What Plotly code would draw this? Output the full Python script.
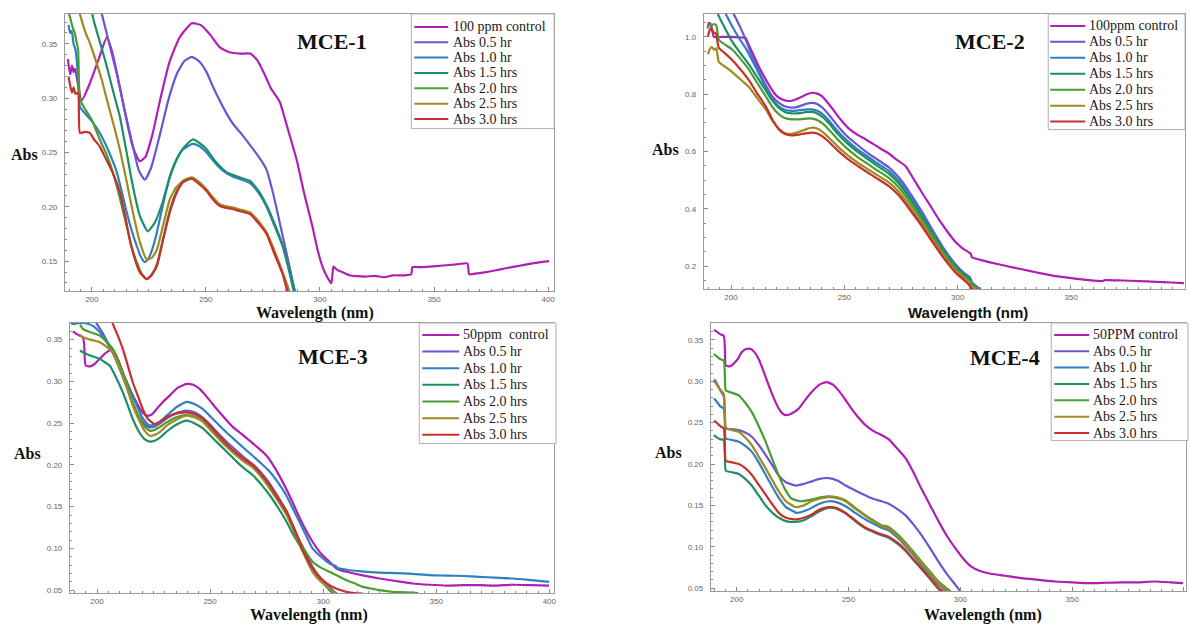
import plotly.graph_objects as go

W, H = 1191, 626

# ---------------- data: (wavelength nm, absorbance) ----------------
SERIES_NAMES = ["control", "0.5 hr", "1.0 hr", "1.5 hrs", "2.0 hrs", "2.5 hrs", "3.0 hrs"]
COLORS = ["#b01fb3", "#6a55d2", "#2e80c0", "#1c8f68", "#4a9d33", "#a08a22", "#c8302c"]

LEGEND_MCE1 = ["100 ppm control", "Abs 0.5 hr", "Abs 1.0 hr", "Abs 1.5 hrs", "Abs 2.0 hrs", "Abs 2.5 hrs", "Abs 3.0 hrs"]
LEGEND_MCE2 = ["100ppm control", "Abs 0.5 hr", "Abs 1.0 hr", "Abs 1.5 hrs", "Abs 2.0 hrs", "Abs 2.5 hrs", "Abs 3.0 hrs"]
LEGEND_MCE3 = ["50ppm\u00a0 control", "Abs 0.5 hr", "Abs 1.0 hr", "Abs 1.5 hrs", "Abs 2.0 hrs", "Abs 2.5 hrs", "Abs 3.0 hrs"]
LEGEND_MCE4 = ["50PPM control", "Abs 0.5 hr", "Abs 1.0 hr", "Abs 1.5 hrs", "Abs 2.0 hrs", "Abs 2.5 hrs", "Abs 3.0 hrs"]

X_TICKS = [200, 250, 300, 350, 400]

# MCE-1
MCE1_CONTROL = [(189.5, 0.336), (190.5, 0.322), (191.3, 0.330), (192.0, 0.324), (192.6, 0.327), (193.5, 0.318),
                (195.6, 0.298), (199, 0.313), (203, 0.336), (206.6, 0.356), (209, 0.342), (212, 0.313),
                (215, 0.282), (218, 0.255), (221, 0.242), (223.5, 0.246), (226.5, 0.266), (230, 0.299),
                (234, 0.333), (238.5, 0.356), (243.8, 0.369), (248, 0.367), (252, 0.358), (256, 0.347),
                (260, 0.3425), (265, 0.341), (269.5, 0.341), (272.5, 0.335), (275.5, 0.323), (278.5, 0.309),
                (282.3, 0.297), (286, 0.271), (289.7, 0.244), (293, 0.213), (296.7, 0.182), (299, 0.16),
                (301.1, 0.145), (303, 0.136), (305, 0.1297), (305.9, 0.145), (307.5, 0.142), (309.9, 0.1399),
                (313, 0.137), (316, 0.1362), (320, 0.1358), (324, 0.1365), (328, 0.1352), (332, 0.137),
                (337, 0.137), (340, 0.138), (340.5, 0.1445), (344, 0.1445), (348, 0.145), (354, 0.146),
                (359.8, 0.147), (364.6, 0.148), (365.4, 0.138), (368, 0.1385), (372.9, 0.1399), (378, 0.142),
                (384, 0.1445), (388, 0.146), (393, 0.148), (400.4, 0.150)]
MCE1_H05 = [(203.5, 0.385), (206, 0.364), (208.5, 0.343), (211, 0.322), (214.5, 0.288), (218, 0.256),
            (220.5, 0.234), (223.2, 0.225), (226, 0.236), (229.8, 0.266), (233.5, 0.298), (237.2, 0.322),
            (240.5, 0.334), (243.8, 0.338), (247, 0.334), (250.3, 0.324), (253, 0.311), (256, 0.298),
            (259, 0.286), (262, 0.276), (266, 0.266), (270, 0.255), (273.5, 0.245), (276.6, 0.234),
            (279.5, 0.212), (282.3, 0.186), (285.5, 0.156), (288.9, 0.1225), (291, 0.10)]
MCE1_H10 = [(189.8, 0.3675), (190.5, 0.36), (191.2, 0.362), (192, 0.35), (192.8, 0.345), (193.5, 0.333),
            (194.8, 0.292), (197, 0.286), (200.5, 0.2775), (203.5, 0.268), (206.6, 0.255), (209, 0.243),
            (211, 0.2315), (213, 0.215), (215.3, 0.195), (217.5, 0.178), (219.7, 0.164), (221.5, 0.154),
            (223.2, 0.149), (225, 0.153), (226.8, 0.163), (228.5, 0.1765), (231.5, 0.205), (234.2, 0.228),
            (237, 0.243), (239.9, 0.2527), (244.2, 0.258), (247, 0.256), (250.3, 0.25), (253, 0.243),
            (256, 0.236), (259, 0.231), (261.7, 0.228), (265, 0.2255), (269.2, 0.222), (273, 0.213),
            (276.6, 0.2), (280, 0.183), (283.6, 0.164), (286, 0.145), (288.5, 0.122), (290.5, 0.105)]
MCE1_H15 = [(199.5, 0.385), (201, 0.37), (203.5, 0.352), (206.6, 0.329), (209.5, 0.305), (212.3, 0.283),
            (215, 0.253), (218, 0.219), (221, 0.192), (224.5, 0.1775), (227.5, 0.185), (231, 0.204),
            (234, 0.226), (237.2, 0.2435), (240.5, 0.255), (244.2, 0.262), (247, 0.259), (250.3, 0.253),
            (253, 0.245), (256, 0.2375), (259, 0.232), (261.7, 0.2295), (265, 0.227), (269.2, 0.224),
            (273, 0.215), (276.6, 0.2015), (280, 0.185), (283.6, 0.165), (286.5, 0.143), (289, 0.1225),
            (291, 0.105)]
MCE1_H20 = [(190, 0.378), (190.4, 0.375), (191.5, 0.366), (192.5, 0.36), (193.3, 0.352), (194, 0.345),
            (194.8, 0.299), (197, 0.29), (200, 0.28), (203.5, 0.262), (206.5, 0.248), (209.2, 0.232),
            (212.3, 0.208), (215.3, 0.182), (217.5, 0.163), (219.7, 0.149), (222, 0.138), (224, 0.1335),
            (226, 0.137), (228.5, 0.147), (231.5, 0.173), (234.2, 0.197), (237, 0.214), (239.9, 0.224),
            (243.8, 0.227), (247, 0.223), (250.3, 0.2155), (253, 0.208), (256, 0.2015), (259, 0.1995),
            (261.7, 0.1985), (265, 0.197), (269.2, 0.194), (273, 0.186), (276.6, 0.1755), (280, 0.158),
            (283.6, 0.139), (286, 0.1225), (288, 0.108)]
MCE1_H25 = [(193.8, 0.385), (195.5, 0.372), (197.3, 0.36), (199.1, 0.351), (202, 0.333), (204.5, 0.316),
            (206.6, 0.2986), (209.5, 0.276), (212.3, 0.2527), (215, 0.226), (218, 0.195), (221, 0.168),
            (224, 0.152), (226.3, 0.153), (228.5, 0.1605), (231.5, 0.185), (234.2, 0.207), (237, 0.218),
            (239.9, 0.2235), (243.8, 0.227), (247, 0.2225), (250.3, 0.216), (253, 0.209), (256, 0.2025),
            (259, 0.2005), (261.7, 0.1995), (265, 0.1975), (269.2, 0.195), (273, 0.187), (276.6, 0.1765),
            (280, 0.16), (283.6, 0.14), (286.6, 0.1225), (288.5, 0.11)]
MCE1_H30 = [(189.8, 0.32), (190.5, 0.312), (191.3, 0.305), (192, 0.31), (192.8, 0.304), (194, 0.305),
            (194.8, 0.268), (197, 0.269), (199.1, 0.268), (201, 0.262), (203.5, 0.2555), (205.5, 0.247),
            (207.9, 0.237), (210, 0.227), (212.3, 0.2133), (214.5, 0.193), (216.6, 0.17), (219, 0.151),
            (221, 0.14), (224, 0.1335), (226, 0.1365), (228.5, 0.1455), (231.5, 0.172), (234.2, 0.195),
            (237, 0.212), (239.9, 0.2225), (243.8, 0.226), (247, 0.221), (250.3, 0.2145), (253, 0.207),
            (256, 0.201), (259, 0.199), (261.7, 0.198), (265, 0.196), (269.2, 0.1935), (273, 0.185),
            (276.6, 0.175), (280, 0.157), (283.6, 0.1385), (285.7, 0.1225), (287.5, 0.11)]

# MCE-2
MCE2_CONTROL = [(189.7, 1.03), (190.2, 1.049), (191, 1.045), (191.8, 1.02), (192.4, 1.0), (196, 1.0),
                (200, 1.0), (204, 0.998), (206.5, 0.996), (207.5, 0.978), (210, 0.935), (212.3, 0.896),
                (215, 0.856), (218, 0.816), (220, 0.795), (222.4, 0.782), (224.5, 0.777), (226.8, 0.777),
                (229, 0.783), (231.2, 0.791), (233.5, 0.800), (235.7, 0.805), (238, 0.802), (240.1, 0.793),
                (244.5, 0.752), (248, 0.715), (252, 0.68), (255.5, 0.66), (259.5, 0.642), (263, 0.625),
                (266.6, 0.607), (269.6, 0.593), (273, 0.572), (277.1, 0.548), (280.5, 0.505), (284.2, 0.457),
                (288, 0.41), (291.7, 0.363), (295.5, 0.32), (299.2, 0.283), (302, 0.263), (305, 0.248),
                (305.8, 0.243), (306.3, 0.231), (310, 0.222), (313.8, 0.214), (320, 0.203), (328.3, 0.189),
                (335, 0.178), (343.3, 0.165), (350, 0.158), (357.9, 0.151), (364, 0.148), (365, 0.151),
                (372.5, 0.150), (380, 0.148), (387.5, 0.145), (394, 0.143), (399.8, 0.141)]
MCE2_H05 = [(200, 1.10), (201.2, 1.08), (204, 1.035), (206.5, 0.99), (209.2, 0.935), (212.3, 0.88),
            (215.4, 0.83), (218, 0.795), (221.1, 0.77), (224, 0.757), (226.8, 0.753), (229, 0.755),
            (231.2, 0.761), (233.5, 0.767), (235.7, 0.77), (238, 0.766), (240.5, 0.752), (243, 0.73),
            (247, 0.69), (251, 0.655), (255, 0.628), (259.5, 0.6), (264, 0.575), (269.6, 0.545),
            (274, 0.51), (279, 0.455), (284.2, 0.39), (289, 0.325), (294, 0.26), (299.2, 0.205),
            (303, 0.175), (305.5, 0.16), (306.3, 0.143), (309, 0.125), (311.6, 0.11)]
MCE2_H10 = [(196.5, 1.10), (197.7, 1.08), (201, 1.03), (204, 0.99), (206.5, 0.96), (209.2, 0.92),
            (212.3, 0.872), (215.4, 0.822), (218, 0.785), (221.1, 0.757), (224, 0.745), (226.8, 0.742),
            (229, 0.743), (231.2, 0.745), (233.5, 0.747), (235.7, 0.747), (238, 0.742), (240.5, 0.73),
            (243, 0.71), (247, 0.672), (251, 0.64), (255, 0.613), (259.5, 0.587), (264, 0.562),
            (269.6, 0.533), (274, 0.498), (279, 0.443), (284.2, 0.38), (289, 0.318), (294, 0.255),
            (299.2, 0.2), (303, 0.17), (305.5, 0.155), (306.3, 0.14), (309, 0.122), (311, 0.11)]
MCE2_H15 = [(193.5, 1.10), (194.2, 1.08), (196, 1.05), (198, 1.02), (200.4, 0.985), (203.5, 0.95),
            (207.8, 0.905), (211.5, 0.86), (215.4, 0.812), (218, 0.78), (221.1, 0.752), (224, 0.737),
            (226.8, 0.733), (229, 0.733), (231.2, 0.735), (233.5, 0.738), (235.7, 0.738), (238, 0.733),
            (240.5, 0.72), (243, 0.70), (247, 0.663), (251, 0.631), (255, 0.604), (259.5, 0.578),
            (264, 0.553), (269.6, 0.523), (274, 0.489), (279, 0.435), (284.2, 0.373), (289, 0.312),
            (294, 0.25), (299.2, 0.196), (303, 0.168), (305.5, 0.153), (306.3, 0.138), (309, 0.12),
            (311, 0.11)]
MCE2_H20 = [(189.8, 1.03), (190.5, 1.045), (191.5, 1.04), (192.5, 1.045), (193.5, 1.04), (194.6, 0.99),
            (197, 0.975), (200.4, 0.957), (204, 0.925), (207.8, 0.887), (211.5, 0.84), (215.4, 0.792),
            (218, 0.758), (221.1, 0.73), (224, 0.716), (226.8, 0.712), (229, 0.712), (231.2, 0.713),
            (233.5, 0.715), (235.7, 0.715), (238, 0.71), (240.5, 0.697), (243, 0.678), (247, 0.643),
            (251, 0.612), (255, 0.586), (259.5, 0.561), (264, 0.537), (269.6, 0.508), (274, 0.475),
            (279, 0.422), (284.2, 0.362), (289, 0.302), (294, 0.242), (299.2, 0.19), (303, 0.163),
            (305.5, 0.148), (306.3, 0.135), (309, 0.12), (311, 0.11)]
MCE2_H25 = [(189.8, 0.94), (190.5, 0.955), (191.5, 0.965), (192.5, 0.955), (193.5, 0.96), (194.6, 0.913),
            (197, 0.898), (200.4, 0.878), (204, 0.853), (207.8, 0.826), (211.5, 0.787), (215.4, 0.746),
            (218, 0.71), (221.1, 0.68), (224, 0.664), (226.8, 0.662), (229, 0.666), (231.2, 0.672),
            (233.5, 0.679), (235.7, 0.683), (238, 0.68), (240.5, 0.668), (243, 0.65), (247, 0.618),
            (251, 0.59), (255, 0.566), (259.5, 0.543), (264, 0.52), (269.6, 0.492), (274, 0.46),
            (279, 0.408), (284.2, 0.35), (289, 0.292), (294, 0.234), (299.2, 0.183), (303, 0.156),
            (305, 0.14), (306, 0.128), (308, 0.115)]
MCE2_H30 = [(189.8, 1.0), (190.4, 1.02), (191, 1.03), (192, 1.018), (193.3, 1.012), (194.6, 0.962),
            (197, 0.945), (200.4, 0.92), (204, 0.888), (207.8, 0.85), (211.5, 0.803), (215.4, 0.757),
            (218, 0.715), (221.1, 0.677), (224, 0.66), (226.8, 0.656), (229, 0.658), (231.2, 0.661),
            (233.5, 0.664), (235.7, 0.666), (238, 0.663), (240.5, 0.652), (243, 0.635), (247, 0.604),
            (251, 0.577), (255, 0.554), (259.5, 0.531), (264, 0.508), (269.6, 0.479), (274, 0.447),
            (279, 0.396), (284.2, 0.34), (289, 0.283), (294, 0.226), (299.2, 0.176), (303, 0.15),
            (305, 0.135), (306, 0.122), (308, 0.11)]

# MCE-3
MCE3_CONTROL = [(189.3, 0.36), (191.5, 0.356), (193.7, 0.353), (194.3, 0.345), (195, 0.319), (197, 0.318),
                (199, 0.321), (201.5, 0.328), (204.3, 0.335), (207, 0.338), (209.5, 0.325), (211.5, 0.31),
                (215, 0.288), (218, 0.272), (220, 0.263), (222, 0.259), (224, 0.26), (226.4, 0.267),
                (229, 0.275), (232.1, 0.283), (235.5, 0.292), (239.6, 0.297), (242.5, 0.296), (245.4, 0.291),
                (249, 0.28), (252.9, 0.267), (256.5, 0.256), (260, 0.2456), (264, 0.237), (267.5, 0.229),
                (271, 0.221), (275, 0.211), (278.5, 0.197), (282, 0.18), (285.5, 0.161), (289, 0.14),
                (292.5, 0.121), (295.3, 0.108), (299, 0.094), (302.8, 0.084), (305.9, 0.076), (310.3, 0.072),
                (317, 0.068), (324.9, 0.064), (332, 0.061), (339.4, 0.058), (347, 0.0565), (354.4, 0.0555),
                (362, 0.056), (369, 0.056), (376, 0.0555), (383.7, 0.0565), (392, 0.056), (399.9, 0.0555)]
MCE3_H05 = [(199, 0.375), (199.9, 0.369), (202.5, 0.358), (205, 0.345), (207.5, 0.331), (210, 0.315),
            (213, 0.294), (216, 0.272), (219, 0.256), (221.5, 0.248), (223.3, 0.245), (225.5, 0.246),
            (228, 0.25), (231, 0.256), (235, 0.262), (239.6, 0.265), (243, 0.263), (246.7, 0.257),
            (250.5, 0.247), (254.2, 0.236), (258, 0.226), (261.7, 0.217), (265, 0.209), (268.8, 0.201),
            (272.5, 0.191), (276.3, 0.178), (280, 0.162), (283.8, 0.145), (286.5, 0.128), (289.5, 0.11),
            (292.5, 0.093), (295.3, 0.078), (299, 0.064), (302.8, 0.054), (305, 0.048), (307, 0.044)]
MCE3_H10 = [(188.5, 0.37), (189.3, 0.369), (192, 0.37), (194, 0.37), (196, 0.369), (198.5, 0.366),
            (201.2, 0.359), (204, 0.348), (207, 0.335), (210, 0.318), (213.2, 0.299), (215.5, 0.284),
            (217.6, 0.271), (220, 0.257), (222, 0.25), (223.3, 0.247), (225, 0.248), (227.5, 0.251),
            (230.8, 0.259), (235, 0.269), (239.6, 0.2755), (243, 0.273), (246.7, 0.267), (250.5, 0.257),
            (254.2, 0.247), (258, 0.237), (261.7, 0.228), (265, 0.22), (268.8, 0.211), (272.5, 0.202),
            (276.3, 0.192), (280, 0.179), (283.8, 0.163), (286.5, 0.148), (289.5, 0.132), (292.5, 0.115),
            (295.3, 0.1), (299, 0.09), (302.8, 0.082), (305.5, 0.079), (306.3, 0.0765), (310.3, 0.0745),
            (317, 0.0725), (324.9, 0.071), (332, 0.0705), (339.4, 0.0695), (347, 0.068), (354.4, 0.0675),
            (362, 0.067), (369, 0.066), (376, 0.065), (383.7, 0.064), (392, 0.062), (399.9, 0.060)]
MCE3_H15 = [(192.5, 0.337), (193.7, 0.335), (197, 0.331), (201.2, 0.327), (203.5, 0.323), (205.6, 0.319),
            (208, 0.307), (211.4, 0.287), (213.5, 0.272), (215.8, 0.255), (218.5, 0.24), (221, 0.231),
            (223.3, 0.228), (225.5, 0.229), (228, 0.233), (230.8, 0.24), (235, 0.248), (239.6, 0.253),
            (243, 0.25), (246.7, 0.244), (250.5, 0.234), (254.2, 0.224), (258, 0.214), (261.7, 0.204),
            (265, 0.196), (268.8, 0.188), (272.5, 0.177), (276.3, 0.164), (280, 0.149), (283.8, 0.132),
            (286.5, 0.118), (289.5, 0.104), (292.5, 0.089), (295.3, 0.075), (299, 0.062), (302.8, 0.05),
            (305, 0.045)]
MCE3_H20 = [(192.5, 0.368), (193.7, 0.363), (197, 0.359), (201.2, 0.355), (204, 0.348), (207, 0.339),
            (209, 0.327), (211.4, 0.311), (213.5, 0.294), (215.8, 0.275), (218.5, 0.258), (221, 0.246),
            (223.3, 0.241), (225.5, 0.242), (228, 0.246), (230.8, 0.251), (235, 0.257), (239.6, 0.26),
            (243, 0.258), (246.7, 0.254), (250.5, 0.243), (254.2, 0.232), (258, 0.221), (261.7, 0.212),
            (265, 0.205), (268.8, 0.198), (272.5, 0.187), (276.3, 0.173), (280, 0.158), (283.8, 0.142),
            (286.5, 0.127), (289, 0.112), (292, 0.097), (295.3, 0.084), (299, 0.077), (302.8, 0.072),
            (305.9, 0.068), (310.3, 0.062), (314, 0.058), (317.6, 0.054), (321, 0.052), (324.9, 0.05),
            (330.8, 0.048), (335, 0.0475), (339.4, 0.047), (342, 0.0465)]
MCE3_H25 = [(192.5, 0.356), (193.7, 0.353), (197, 0.35), (201.2, 0.347), (204, 0.342), (207, 0.335),
            (209, 0.322), (211.4, 0.307), (213.5, 0.29), (215.8, 0.271), (218.5, 0.254), (221, 0.241),
            (223.3, 0.235), (225.5, 0.236), (228, 0.24), (230.8, 0.247), (235, 0.254), (239.6, 0.259),
            (243, 0.257), (246.7, 0.252), (250.5, 0.241), (254.2, 0.23), (258, 0.22), (261.7, 0.211),
            (265, 0.204), (268.8, 0.197), (272.5, 0.186), (276.3, 0.172), (280, 0.157), (283.8, 0.14),
            (286.5, 0.124), (289, 0.108), (292, 0.09), (295.3, 0.072), (299, 0.06), (302.8, 0.052),
            (305, 0.047), (307, 0.044)]
MCE3_H30 = [(206, 0.38), (207, 0.369), (209, 0.356), (211.4, 0.339), (213.5, 0.32), (215.8, 0.299),
            (218, 0.283), (220.2, 0.267), (222.5, 0.255), (225.5, 0.249), (228, 0.252), (232.1, 0.259),
            (236, 0.262), (239.6, 0.263), (243, 0.261), (246.7, 0.256), (250.5, 0.245), (254.2, 0.2336),
            (258, 0.223), (261.7, 0.214), (265, 0.207), (268.8, 0.2), (272.5, 0.189), (276.3, 0.176),
            (280, 0.16), (283.8, 0.144), (286.5, 0.128), (288.2, 0.116), (291.5, 0.095), (295.3, 0.076),
            (299, 0.064), (302.8, 0.056), (306.5, 0.051), (310.3, 0.048), (314, 0.0465), (317.6, 0.046)]

# MCE-4
MCE4_CONTROL = [(189.8, 0.362), (190.6, 0.361), (192.5, 0.357), (194.2, 0.355), (194.7, 0.34), (195.1, 0.319),
                (196.8, 0.318), (198.5, 0.321), (200.5, 0.327), (202.2, 0.335), (204.2, 0.339), (206.3, 0.339),
                (208, 0.335), (209.8, 0.327), (212, 0.312), (214.3, 0.295), (216.5, 0.28), (218.8, 0.267),
                (220.5, 0.261), (222.3, 0.259), (224.5, 0.261), (227.7, 0.267), (230.5, 0.277), (233.5, 0.287),
                (237, 0.296), (240.2, 0.299), (243, 0.296), (245.5, 0.289), (248.5, 0.278), (251.3, 0.267),
                (254.5, 0.256), (257.6, 0.247), (261, 0.24), (264.7, 0.235), (267.9, 0.23), (271, 0.221),
                (275.5, 0.207), (279, 0.19), (282.6, 0.17), (286.5, 0.15), (290.2, 0.131), (294, 0.113),
                (297.8, 0.098), (301.5, 0.085), (304.9, 0.076), (308.5, 0.071), (312.5, 0.068), (320, 0.065),
                (327.3, 0.062), (335, 0.06), (342.4, 0.058), (350, 0.057), (357.2, 0.056), (365, 0.0565),
                (372, 0.057), (380, 0.057), (387, 0.058), (394, 0.057), (399.6, 0.056)]
MCE4_H05 = [(189.8, 0.302), (190.6, 0.3), (192.5, 0.29), (194.2, 0.282), (194.7, 0.26), (195.1, 0.243),
            (198, 0.242), (200.9, 0.241), (203.8, 0.238), (206.7, 0.233), (209.8, 0.223), (212.9, 0.211),
            (216, 0.198), (218.8, 0.186), (222, 0.178), (226.3, 0.174), (230, 0.176), (233.5, 0.179),
            (237, 0.182), (241.1, 0.183), (245, 0.18), (248.7, 0.174), (253, 0.168), (257.6, 0.162),
            (261, 0.158), (264.7, 0.155), (267.9, 0.152), (271, 0.147), (275.5, 0.138), (279, 0.127),
            (282.6, 0.114), (286.5, 0.098), (290.2, 0.082), (294, 0.067), (297.8, 0.054), (300, 0.046),
            (302, 0.04)]
MCE4_H10 = [(189.8, 0.279), (190.6, 0.277), (192.5, 0.27), (194.2, 0.267), (194.7, 0.248), (195.1, 0.231),
            (198, 0.229), (200.9, 0.227), (203.8, 0.222), (206.7, 0.215), (209.8, 0.202), (212.9, 0.187),
            (216, 0.172), (218.8, 0.159), (222, 0.148), (226.8, 0.141), (230, 0.143), (233.5, 0.147),
            (237, 0.152), (241.1, 0.155), (244.5, 0.154), (248.7, 0.149), (253, 0.141), (257.6, 0.133),
            (261, 0.128), (264.7, 0.123), (267.9, 0.12), (272.3, 0.11), (275.5, 0.101), (279, 0.09),
            (282.6, 0.078), (286.5, 0.066), (290.2, 0.054), (294, 0.046), (295.5, 0.042)]
MCE4_H15 = [(189.8, 0.235), (190.6, 0.233), (192.5, 0.23), (194.2, 0.229), (194.7, 0.21), (195.1, 0.192),
            (198, 0.19), (200.9, 0.188), (203.8, 0.182), (206.7, 0.174), (209.8, 0.162), (212.9, 0.15),
            (216, 0.141), (218.8, 0.135), (222, 0.131), (226.3, 0.13), (230, 0.132), (233.5, 0.137),
            (237, 0.143), (241.1, 0.147), (244.5, 0.146), (248.7, 0.14), (253, 0.131), (257.6, 0.122),
            (261, 0.118), (264.7, 0.114), (267.9, 0.111), (272.3, 0.103), (275.5, 0.095), (279, 0.084),
            (282.6, 0.073), (286.5, 0.061), (290.2, 0.049), (293, 0.043)]
MCE4_H20 = [(189.8, 0.333), (190.6, 0.331), (192.5, 0.327), (194.2, 0.325), (194.7, 0.305), (195.1, 0.289),
            (198, 0.286), (200.9, 0.283), (203.8, 0.274), (206.7, 0.263), (209.8, 0.246), (212.9, 0.227),
            (216, 0.205), (218.8, 0.186), (221.5, 0.17), (224.6, 0.158), (229, 0.155), (234.8, 0.158),
            (238, 0.16), (241.1, 0.161), (244.5, 0.16), (248.7, 0.156), (253, 0.147), (257.6, 0.138),
            (261, 0.132), (264.7, 0.126), (267.9, 0.124), (272.3, 0.114), (275.5, 0.105), (279, 0.094),
            (282.6, 0.082), (286.5, 0.07), (290.2, 0.058), (295.6, 0.046), (297, 0.042)]
MCE4_H25 = [(189.8, 0.3), (190.6, 0.298), (192.5, 0.29), (194.2, 0.285), (194.7, 0.262), (195.1, 0.244),
            (198, 0.241), (200.9, 0.239), (203.8, 0.232), (206.7, 0.223), (209.8, 0.209), (212.9, 0.195),
            (216, 0.18), (218.8, 0.167), (222, 0.155), (226.3, 0.148), (230, 0.15), (233.5, 0.155),
            (237, 0.158), (241.1, 0.16), (244.5, 0.159), (248.7, 0.155), (253, 0.146), (257.6, 0.137),
            (261, 0.131), (264.7, 0.125), (267.9, 0.122), (272.3, 0.112), (275.5, 0.103), (279, 0.092),
            (282.6, 0.08), (286.5, 0.068), (290.2, 0.056), (295, 0.046), (296.5, 0.042)]
MCE4_H30 = [(189.8, 0.252), (190.6, 0.251), (192.5, 0.246), (194.2, 0.243), (194.7, 0.22), (195.1, 0.204),
            (198, 0.202), (200.9, 0.2), (203.8, 0.195), (206.7, 0.187), (209.8, 0.175), (212.9, 0.163),
            (216, 0.151), (218.8, 0.141), (222, 0.135), (226.3, 0.133), (230, 0.135), (233.5, 0.139),
            (237, 0.145), (241.1, 0.148), (244.5, 0.147), (248.7, 0.141), (253, 0.132), (257.6, 0.123),
            (261, 0.119), (264.7, 0.115), (267.9, 0.112), (272.3, 0.104), (275.5, 0.096), (279, 0.085),
            (282.6, 0.074), (286.5, 0.062), (290.2, 0.05), (293, 0.044), (294.5, 0.04)]

PANELS = [
    dict(title="MCE-1", series=[MCE1_CONTROL, MCE1_H05, MCE1_H10, MCE1_H15, MCE1_H20, MCE1_H25, MCE1_H30],
         legend=LEGEND_MCE1, xr=[188.2, 402.6], yr=[0.1225, 0.3775], ytick=0.05, yfmt=".2f", yminor=0.01),
    dict(title="MCE-2", series=[MCE2_CONTROL, MCE2_H05, MCE2_H10, MCE2_H15, MCE2_H20, MCE2_H25, MCE2_H30],
         legend=LEGEND_MCE2, xr=[188.0, 400.3], yr=[0.12, 1.08], ytick=0.2, yfmt=".1f", yminor=0.05),
    dict(title="MCE-3", series=[MCE3_CONTROL, MCE3_H05, MCE3_H10, MCE3_H15, MCE3_H20, MCE3_H25, MCE3_H30],
         legend=LEGEND_MCE3, xr=[188.0, 402.1], yr=[0.0465, 0.37], ytick=0.05, yfmt=".2f", yminor=0.01),
    dict(title="MCE-4", series=[MCE4_CONTROL, MCE4_H05, MCE4_H10, MCE4_H15, MCE4_H20, MCE4_H25, MCE4_H30],
         legend=LEGEND_MCE4, xr=[188.4, 400.9], yr=[0.0464, 0.3705], ytick=0.05, yfmt=".2f", yminor=0.01),
]

# ---------------- layout geometry (pixels) ----------------
PLOT_BOXES = [(65, 555, 14, 292), (705, 1187, 14, 290), (70, 555, 324, 595), (712, 1188, 324, 593)]
TITLE_POS = [(333, 42), (992, 42), (334, 358), (1007, 359)]
YLABEL_POS = [(25, 155), (667, 150), (28, 455), (670, 454)]
XLABEL_POS = [(316, 314), (970, 314), (310, 617), (985, 617)]
XLABEL_FONT = ["Liberation Serif", "Liberation Sans", "Liberation Serif", "Liberation Serif"]
LEGEND_BOX = [(412, 555, 14, 129), (1050, 1187, 14, 130), (420, 557, 324, 445), (1053, 1190, 324, 442)]
LEGEND_ROWS = [(415, 449, 452, 27, 15.4), (1052, 1087, 1089, 26, 16.0),
               (423, 460, 462, 336, 16.7), (1056, 1091, 1093, 336, 16.4)]


def fx(px):
    return px / W


def fy(py):
    return 1 - py / H


fig = go.Figure()
shapes = []
annotations = []
SERIF = "Liberation Serif"

for i, panel in enumerate(PANELS):
    n = "" if i == 0 else str(i + 1)
    xa, ya = "x" + n, "y" + n
    for pts, color, name in zip(panel["series"], COLORS, SERIES_NAMES):
        fig.add_trace(go.Scatter(
            x=[p[0] for p in pts], y=[p[1] for p in pts], mode="lines", name=name,
            line=dict(color=color, width=2.2, shape="spline", smoothing=0.5),
            xaxis=xa, yaxis=ya, showlegend=False, hoverinfo="skip"))

    x0, x1, y0, y1 = PLOT_BOXES[i]
    common = dict(showline=True, linecolor="#9c9c9c", linewidth=1, mirror=True,
                  showgrid=False, zeroline=False, ticks="inside", ticklen=4, tickcolor="#8a8a8a",
                  tickfont=dict(family="Liberation Sans", size=8, color="#666666"))
    fig.update_layout(**{
        ("xaxis" + n): dict(domain=[fx(x0), fx(x1)], range=panel["xr"], anchor=ya,
                            tickvals=X_TICKS, ticklabelstandoff=0,
                            minor=dict(dtick=5, tick0=0, ticks="inside", ticklen=2, tickcolor="#8a8a8a"),
                            **common),
        ("yaxis" + n): dict(domain=[fy(y1), fy(y0)], range=panel["yr"], anchor=xa,
                            dtick=panel["ytick"], tick0=0, tickformat=panel["yfmt"], ticklabelstandoff=5,
                            minor=dict(dtick=panel["yminor"], tick0=0, ticks="inside", ticklen=2,
                                       tickcolor="#8a8a8a"),
                            **common),
    })

    # panel title and axis titles
    tx, ty = TITLE_POS[i]
    annotations.append(dict(x=fx(tx), y=fy(ty), xref="paper", yref="paper", text="<b>%s</b>" % panel["title"],
                            showarrow=False, xanchor="center", yanchor="middle",
                            font=dict(family=SERIF, size=22, color="#111111")))
    lx, ly = YLABEL_POS[i]
    annotations.append(dict(x=fx(lx), y=fy(ly), xref="paper", yref="paper", text="<b>Abs</b>",
                            showarrow=False, xanchor="center", yanchor="middle",
                            font=dict(family=SERIF, size=16, color="#111111")))
    wx, wy = XLABEL_POS[i]
    annotations.append(dict(x=fx(wx), y=fy(wy), xref="paper", yref="paper", text="<b>Wavelength (nm)</b>",
                            showarrow=False, xanchor="center", yanchor="middle",
                            font=dict(family=XLABEL_FONT[i], size=16 if i != 1 else 15, color="#111111")))

    # legend box with line samples
    bx0, bx1, by0, by1 = LEGEND_BOX[i]
    shapes.append(dict(type="rect", xref="paper", yref="paper", x0=fx(bx0), x1=fx(bx1), y0=fy(by1), y1=fy(by0),
                       line=dict(color="#b0b0b0", width=1), fillcolor="white", layer="above"))
    sx0, sx1, txx, ry0, dy = LEGEND_ROWS[i]
    for k, (label, color) in enumerate(zip(panel["legend"], COLORS)):
        yy = ry0 + k * dy
        shapes.append(dict(type="line", xref="paper", yref="paper", x0=fx(sx0), x1=fx(sx1), y0=fy(yy), y1=fy(yy),
                           line=dict(color=color, width=2), layer="above"))
        annotations.append(dict(x=fx(txx), y=fy(yy), xref="paper", yref="paper", text=label,
                                showarrow=False, xanchor="left", yanchor="middle",
                                font=dict(family=SERIF, size=14, color="#1a1a1a")))

fig.update_layout(width=W, height=H, margin=dict(l=0, r=0, t=0, b=0),
                  paper_bgcolor="white", plot_bgcolor="white",
                  shapes=shapes, annotations=annotations, showlegend=False)

fig.write_html("out.html")
